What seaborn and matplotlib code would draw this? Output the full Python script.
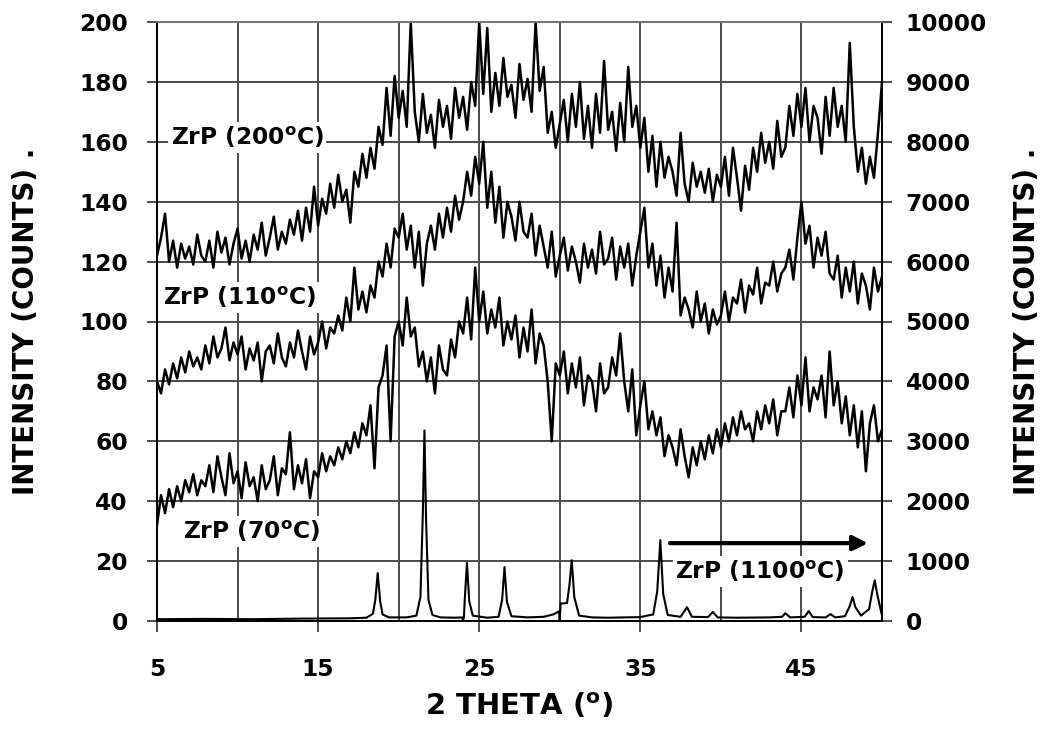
import numpy as np
import pandas as pd
import matplotlib
matplotlib.use("Agg")
import matplotlib.pyplot as plt
import seaborn as sns

# 2-theta scan grid (degrees) for the amorphous samples
theta = np.arange(5.0, 50.0001, 0.25)

# ZrP (200 C) intensity, left axis (counts)
zrp200 = [122, 128, 136, 120,  127, 118, 126, 121,  125, 119, 129, 122,
          120, 127, 118, 130,  123, 128, 119, 126,  131, 121, 127, 120,
          129, 124, 133, 122,  128, 135, 124, 130,  126, 134, 129, 137,
          127, 138, 130, 145,  132, 141, 136, 146,  138, 149, 140, 144,
          133, 150, 145, 156,  148, 158, 151, 165,  159, 178, 162, 182,
          168, 177, 165, 200,  170, 160, 176, 163,  169, 158, 174, 165,
          172, 161, 178, 168,  175, 164, 180, 172,  200, 176, 198, 170,
          183, 172, 188, 175,  179, 168, 186, 174,  181, 170, 200, 177,
          185, 163, 170, 158,  166, 174, 160, 176,  165, 180, 161, 172,
          158, 176, 163, 187,  164, 170, 157, 173,  160, 185, 165, 172,
          158, 168, 150, 162,  145, 160, 148, 155,  150, 142, 163, 146,
          140, 153, 145, 150,  143, 151, 140, 149,  145, 155, 142, 158,
          148, 137, 152, 144,  158, 150, 163, 153,  160, 151, 167, 155,
          158, 172, 162, 176,  165, 178, 160, 172,  168, 156, 175, 162,
          178, 165, 172, 160,  193, 165, 150, 158,  146, 155, 148, 163,
          180]

# ZrP (110 C) intensity, left axis (counts)
zrp110 = [80, 76, 84, 79,  86, 81, 88, 83,  90, 85, 88, 84,
          92, 86, 95, 88,  91, 98, 87, 93,  89, 95, 84, 91,
          87, 93, 80, 90,  92, 86, 96, 88,  85, 93, 88, 97,
          90, 84, 95, 89,  93, 100, 91, 98,  96, 102, 97, 108,
          100, 118, 104, 110,  103, 112, 108, 120,  115, 126, 118, 131,
          128, 136, 124, 132,  118, 130, 112, 126,  132, 124, 136, 128,
          138, 130, 142, 134,  140, 150, 142, 155,  146, 160, 138, 150,
          133, 145, 128, 140,  135, 127, 140, 130,  128, 136, 122, 132,
          125, 118, 130, 115,  122, 128, 117, 125,  120, 113, 126, 118,
          124, 116, 130, 119,  121, 128, 114, 125,  118, 126, 112, 122,
          130, 138, 118, 126,  112, 122, 108, 118,  110, 133, 102, 108,
          104, 98, 110, 100,  106, 96, 104, 99,  102, 110, 100, 108,
          106, 114, 103, 112,  109, 118, 106, 113,  112, 120, 110, 116,
          118, 124, 114, 128,  140, 126, 132, 118,  128, 122, 130, 116,
          114, 122, 108, 118,  110, 120, 106, 116,  112, 104, 118, 110,
          115]

# ZrP (70 C) intensity, left axis (counts)
zrp70 = [32, 42, 36, 44,  38, 45, 40, 47,  43, 49, 42, 47,
         45, 52, 43, 55,  48, 42, 56, 46,  50, 41, 53, 45,
         48, 40, 52, 44,  47, 55, 42, 51,  49, 63, 44, 52,
         46, 54, 41, 50,  48, 56, 50, 55,  52, 58, 54, 60,
         56, 63, 58, 66,  62, 72, 51, 78,  82, 92, 60, 95,
         100, 92, 108, 95,  98, 85, 90, 80,  88, 76, 92, 84,
         82, 94, 88, 100,  96, 108, 94, 118,  100, 110, 96, 104,
         98, 108, 92, 100,  94, 102, 88, 98,  90, 104, 86, 96,
         92, 80, 60, 86,  82, 90, 76, 86,  78, 88, 72, 82,
         80, 70, 86, 76,  78, 88, 82, 96,  80, 70, 84, 62,
         72, 80, 64, 70,  62, 68, 55, 62,  58, 52, 64, 55,
         48, 58, 52, 60,  54, 62, 56, 64,  58, 66, 60, 68,
         62, 70, 64, 66,  60, 70, 64, 72,  66, 74, 62, 70,
         70, 78, 68, 82,  72, 88, 70, 78,  74, 82, 68, 90,
         72, 80, 66, 75,  62, 72, 58, 70,  50, 66, 72, 60,
         64]

# ZrP (1100 C) crystalline pattern, right axis (counts)
theta_1100 = [5.0, 8.0, 11.0, 14.0, 17.0, 18.0, 18.4, 18.55, 18.7, 18.85, 19.0, 19.4,
              20.5, 21.1, 21.35, 21.5, 21.6, 21.7, 21.85, 22.1, 22.6, 23.5, 23.95, 24.0,
              24.05, 24.1, 24.24, 24.38, 24.6, 25.5, 26.2, 26.42, 26.57, 26.72, 27.0, 28.0,
              29.0, 29.6, 29.95, 30.0, 30.05, 30.45, 30.6, 30.74, 30.9, 31.2, 32.0, 33.0,
              34.0, 35.0, 35.8, 36.05, 36.24, 36.42, 36.7, 37.5, 37.9, 38.2, 39.2, 39.5,
              39.8, 41.0, 43.0, 43.8, 44.0, 44.3, 45.2, 45.45, 45.7, 46.5, 46.8, 47.1,
              47.7, 48.0, 48.17, 48.35, 48.7, 49.2, 49.4, 49.55, 49.7, 50.0]
zrp1100 = [30, 35, 30, 40, 45, 55, 120, 350, 800, 330, 110, 60,
           60, 90, 400, 1800, 3180, 1700, 350, 100, 60, 55, 60, 0,
           70, 350, 970, 330, 90, 55, 70, 350, 900, 320, 80, 60,
           70, 110, 160, 0, 290, 300, 600, 1015, 400, 90, 60, 55,
           60, 65, 110, 500, 1350, 450, 100, 70, 230, 70, 65, 150,
           60, 55, 60, 70, 130, 60, 70, 165, 65, 60, 115, 60,
           80, 250, 400, 230, 90, 200, 500, 680, 450, 90]

# axis tick values
x_major = [5, 15, 25, 35, 45]
x_minor = [10, 20, 30, 40, 50]
y_left = list(range(0, 201, 20))
y_right = list(range(0, 10001, 1000))

sample_names = ["ZrP (200°C)", "ZrP (110°C)", "ZrP (70°C)"]

sns.set_theme(style="white")
plt.rcParams['font.family'] = ['DejaVu Sans']
plt.rcParams['font.weight'] = 'bold'
plt.rcParams['mathtext.default'] = 'bf'
plt.rcParams['text.color'] = 'black'
plt.rcParams['axes.labelcolor'] = 'black'
plt.rcParams['axes.labelweight'] = 'bold'
gc = "#4d4d4d"

df = pd.DataFrame({
    "theta": np.concatenate([theta, theta, theta]),
    "intensity": np.concatenate([zrp200, zrp110, zrp70]),
    "sample": np.repeat(sample_names, len(theta)),
})
df1100 = pd.DataFrame({"t": theta_1100, "i": zrp1100})

W, H = 1047, 731
fig = plt.figure(figsize=(W / 100, H / 100), dpi=100)
L, R, T, B = 157, 882, 22, 621
ax = fig.add_axes([L / W, 1 - B / H, (R - L) / W, (B - T) / H])
ax.set_axisbelow("line")

sns.lineplot(data=df, x="theta", y="intensity", hue="sample", units="sample",
             estimator=None, palette=["black"] * 3, legend=False, lw=1.8, ax=ax,
             zorder=3)
ax.set_xlim(5, 50)
ax.set_ylim(0, 200)
ax.set_xticks(x_major)
ax.set_xticks(x_minor, minor=True)
ax.set_yticks(y_left)
ax.grid(True, which="both", axis="x", color=gc, lw=1.3)
ax.grid(True, which="major", axis="y", color=gc, lw=1.3)
for v in x_major + x_minor:
    ax.axvline(v, color=gc, lw=1.3, zorder=1.2)
for v in y_left:
    ax.axhline(v, color=gc, lw=1.3, zorder=1.2)
ax.tick_params(axis="x", which="major", bottom=True, direction="out", length=8,
               width=1.4, pad=19, labelsize=16.8, color=gc, labelcolor="black")
ax.tick_params(axis="x", which="minor", bottom=False, length=0)
ax.tick_params(axis="y", left=True, direction="out", length=7, width=1.4,
               pad=14, labelsize=16.8, color=gc, labelcolor="black")

ax2 = ax.twinx()
ax2.patch.set_visible(False)
ax2.set_axisbelow("line")
sns.lineplot(data=df1100, x="t", y="i", color="black", lw=1.5, ax=ax2, zorder=3)
ax2.set_ylim(0, 10000)
ax2.set_yticks(y_right)
ax2.tick_params(axis="y", right=True, direction="out", length=7, width=1.4,
                pad=10, labelsize=16.8, color=gc, labelcolor="black")

for a in (ax, ax2):
    for side in ("left", "bottom", "right"):
        a.spines[side].set_color("black")
        a.spines[side].set_linewidth(1.3)
    a.spines["top"].set_color("#777777")
    a.spines["top"].set_linewidth(1.3)

box = dict(facecolor="white", edgecolor="none", pad=2)
ax.text(10.59, 161.5, r"ZrP (200$^{o}$C)", fontsize=16.8, ha="center", va="center", bbox=box, zorder=4)
ax.text(10.15, 108, r"ZrP (110$^{o}$C)", fontsize=16.8, ha="center", va="center", bbox=box, zorder=4)
ax.text(10.84, 30, r"ZrP (70$^{o}$C)", fontsize=16.8, ha="center", va="center", bbox=box, zorder=4)
ax.text(42.43, 16.4, r"ZrP (1100$^{o}$C)", fontsize=16.8, ha="center", va="center", bbox=box, zorder=4)
ax.annotate("", xy=(49.3, 26), xytext=(36.66, 26), zorder=4,
            arrowprops=dict(arrowstyle="-|>", color="black", lw=3, mutation_scale=22))

ax.set_ylabel("INTENSITY (COUNTS) .", fontsize=20, labelpad=28)
ax2.set_ylabel("INTENSITY (COUNTS) .", fontsize=20, labelpad=19)
ax.set_xlabel(r"2 THETA ($^{o}$)", fontsize=21, labelpad=7)

fig.savefig("out.png", dpi=100)
